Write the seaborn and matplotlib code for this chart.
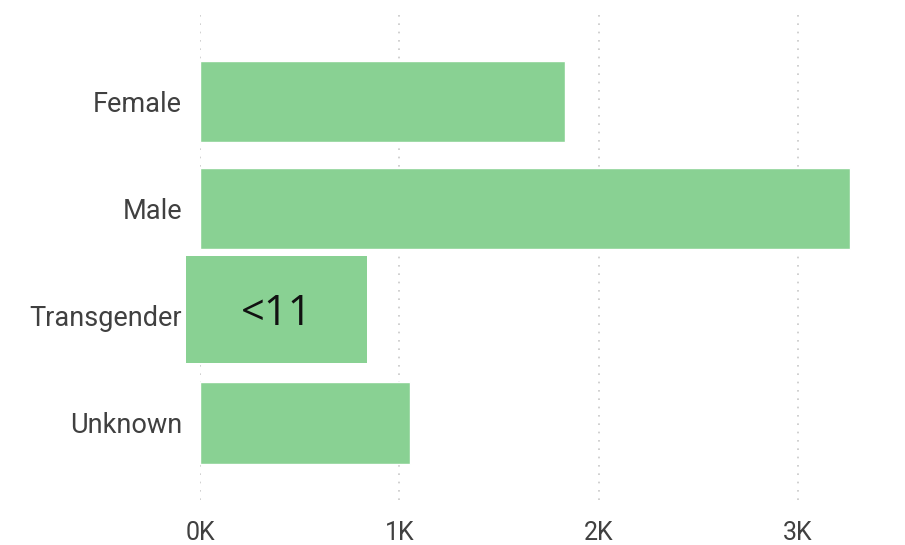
import matplotlib
matplotlib.use("Agg")
import matplotlib.pyplot as plt
from matplotlib.patches import Rectangle
from matplotlib.ticker import FuncFormatter
import seaborn as sns
import pandas as pd

# data
genders = ["Female", "Male", "Transgender", "Unknown"]
counts = [1830, 3260, 5, 1055]
suppressed_label = "<11"
x_ticks = [0, 1000, 2000, 3000]

df = pd.DataFrame({"Gender": genders, "Count": counts})

sns.set_style("white")
plt.rcParams["font.family"] = ["Roboto", "DejaVu Sans"]

fig = plt.figure(figsize=(9.05, 5.45), dpi=100)
ax = fig.add_axes([0.221, 0.0826, 0.738, 0.89])

bar_color = "#89d193"
sns.barplot(data=df, y="Gender", x="Count", color=bar_color, saturation=1,
            width=0.76, ax=ax, orient="h")

ax.set_xlim(0, 3350)
ax.set_ylim(3.72, -0.81)
ax.set_xticks(x_ticks)
ax.xaxis.set_major_formatter(FuncFormatter(lambda v, p: f"{int(v / 1000)}K"))
ax.grid(True, axis="x", linestyle=(0, (1, 4)), color="#c8c8c8", linewidth=1.2)
ax.set_axisbelow(True)
for s in ax.spines.values():
    s.set_visible(False)
ax.set_xlabel("")
ax.set_ylabel("")
ax.tick_params(axis="both", length=0, labelcolor="#404040")
ax.tick_params(axis="x", pad=15, labelsize=18)
ax.tick_params(axis="y", pad=13, labelsize=19.5)

# suppression box over the small Transgender count
idx = genders.index("Transgender")
box = Rectangle((-70, idx - 0.56), 910, 1.0, facecolor=bar_color,
                edgecolor="none", clip_on=False, zorder=5)
ax.add_patch(box)
ax.text(385, idx - 0.02, suppressed_label, ha="center", va="center",
        fontsize=30, color="#111111", family=["Open Sans", "DejaVu Sans"],
        zorder=6)

fig.savefig("out.png", dpi=100)
